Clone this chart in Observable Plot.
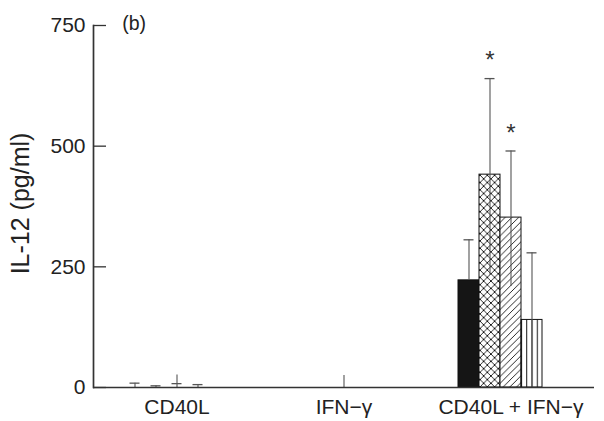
<!DOCTYPE html>
<html>
<head>
<meta charset="utf-8">
<script src="https://cdn.jsdelivr.net/npm/d3@7"></script>
<script src="https://cdn.jsdelivr.net/npm/@observablehq/plot@0.6"></script>
<style>
  html, body { margin: 0; padding: 0; background: #fff; }
</style>
</head>
<body>
<div id="chart"></div>
<script>
// ---- data ----
const groups = ["CD40L", "IFN−γ", "CD40L + IFN−γ"];
const series = ["A", "B", "C", "D"];
const yTicks = [0, 250, 500, 750];

const cd40lMean = [0, 0, 0, 0];
const cd40lLo   = [0, 0, 0, 0];
const cd40lHi   = [9, 3.5, 26, 6];
const cd40lCap  = [9, 3.5, 8, 6];

const ifnMean = [0, 0, 0, 0];
const ifnLo   = [null, null, 0, null];
const ifnHi   = [null, null, 25, null];
const ifnCap  = [null, null, null, null];

const comboMean = [222, 441, 352, 140];
const comboLo   = [222, 232, 209, 1];
const comboHi   = [306, 640, 490, 279];
const comboCap  = [306, 640, 490, 279];

const comboSignificant = [false, true, true, false];

// ---- table ----
function rowsFor(group, mean, lo, hi, cap, sig) {
  return series.map((s, i) => ({
    group, series: s, mean: mean[i], lo: lo[i], hi: hi[i], cap: cap[i], sig: sig ? sig[i] : false
  }));
}
const rows = [
  ...rowsFor(groups[0], cd40lMean, cd40lLo, cd40lHi, cd40lCap),
  ...rowsFor(groups[1], ifnMean, ifnLo, ifnHi, ifnCap),
  ...rowsFor(groups[2], comboMean, comboLo, comboHi, comboCap, comboSignificant)
];

const font = "'Liberation Sans', Arial, Helvetica, sans-serif";

const chart = Plot.plot({
  width: 604,
  height: 421,
  marginLeft: 93,
  marginRight: 10,
  marginTop: 25,
  marginBottom: 34,
  style: { fontFamily: font, background: "#fff", color: "#222", overflow: "visible" },
  fx: { domain: groups, padding: 0, label: null, axis: null },
  x: { domain: series, paddingInner: 0, paddingOuter: 1.88, align: 0.37, axis: null },
  y: { domain: [0, 750], axis: null },
  color: { type: "ordinal", domain: series, range: ["#151515", "url(#pXhatch)", "url(#pDiag)", "url(#pVert)"] },
  marks: [
    Plot.barY(rows, { fx: "group", x: "series", y: "mean", fill: "series", stroke: "#111", strokeWidth: 1 }),
    Plot.ruleX(rows.filter(d => d.hi != null), { fx: "group", x: "series", y1: "lo", y2: "hi", stroke: "#555", strokeWidth: 1.1 }),
    Plot.tickY(rows.filter(d => d.cap != null), { fx: "group", x: "series", y: "cap", stroke: "#555", strokeWidth: 1.3, insetLeft: 5.5, insetRight: 5.5 }),
    Plot.text(rows.filter(d => d.sig), { fx: "group", x: "series", y: "hi", text: () => "*", dy: -18, fontSize: 24, fill: "#333" }),
    Plot.ruleY([0], { stroke: "#333", strokeWidth: 1.7 }),
    Plot.frame({ anchor: "left", facetAnchor: "left", stroke: "#333", strokeWidth: 1.7 }),
    Plot.axisY({ ticks: yTicks, tickSize: 13, dx: 13, tickPadding: 8, fontSize: 21, label: null, stroke: "#333", strokeWidth: 1.3, tickFormat: d => String(d) }),
    Plot.axisFx({ anchor: "bottom", tickSize: 0, tickPadding: 12, fontSize: 21, label: null }),
    Plot.text(["(b)"], { frameAnchor: "top-left", textAnchor: "start", lineAnchor: "middle", dx: 28.7, dy: -2, fontSize: 19.5, facetAnchor: "left", fill: "#222" }),
    Plot.text(["IL-12 (pg/ml)"], { frameAnchor: "left", textAnchor: "middle", lineAnchor: "middle", rotate: -90, dx: -73, dy: -3, fontSize: 25, facetAnchor: "left", fill: "#222" })
  ]
});

// ---- hatch patterns ----
const ns = "http://www.w3.org/2000/svg";
const svg = chart.tagName.toLowerCase() === "svg" ? chart : chart.querySelector("svg");
const defs = document.createElementNS(ns, "defs");
function pattern(id, attrs, inner) {
  const p = document.createElementNS(ns, "pattern");
  p.setAttribute("id", id);
  for (const k in attrs) p.setAttribute(k, attrs[k]);
  p.innerHTML = inner;
  defs.appendChild(p);
}
const s1 = 7.3;
pattern("pXhatch", { patternUnits: "userSpaceOnUse", width: s1, height: s1 },
  `<rect width="${s1}" height="${s1}" fill="#fff"/>
   <path d="M0,0L${s1},${s1}M0,${s1}L${s1},0" stroke="#111" stroke-width="0.9" fill="none"/>`);
const s2 = 6.7;
pattern("pDiag", { patternUnits: "userSpaceOnUse", width: s2, height: s2 },
  `<rect width="${s2}" height="${s2}" fill="#fff"/>
   <path d="M0,${s2}L${s2},0M-1,1L1,-1M${s2 - 1},${s2 + 1}L${s2 + 1},${s2 - 1}" stroke="#111" stroke-width="0.9" fill="none"/>`);
pattern("pVert", { patternUnits: "objectBoundingBox", width: 0.25, height: 1 },
  `<rect width="100" height="1000" fill="#fff"/>
   <path d="M0.5,0V1000" stroke="#111" stroke-width="1" fill="none"/>`);
svg.insertBefore(defs, svg.firstChild);

document.getElementById("chart").appendChild(chart);
</script>
</body>
</html>
